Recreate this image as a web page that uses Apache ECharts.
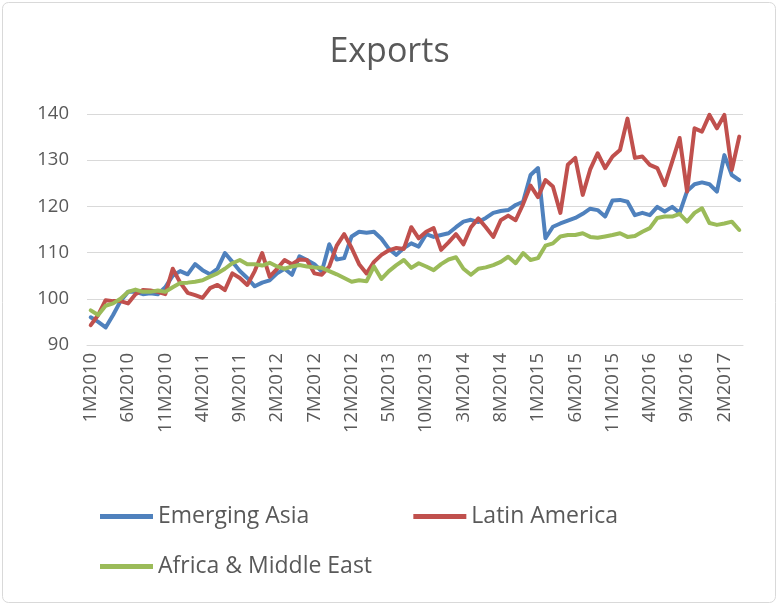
<!DOCTYPE html>
<html>
<head>
<meta charset="utf-8">
<script src="https://cdn.jsdelivr.net/npm/echarts@6/dist/echarts.min.js"></script>
<style>
  html, body { margin: 0; padding: 0; background: #ffffff; }
  #chart { width: 779px; height: 606px; }
</style>
</head>
<body>
<div id="chart"></div>
<script>
// Monthly export indices, January 2010 to April 2017
const months = [
  '1M2010','2M2010','3M2010','4M2010','5M2010','6M2010','7M2010','8M2010','9M2010','10M2010','11M2010','12M2010',
  '1M2011','2M2011','3M2011','4M2011','5M2011','6M2011','7M2011','8M2011','9M2011','10M2011','11M2011','12M2011',
  '1M2012','2M2012','3M2012','4M2012','5M2012','6M2012','7M2012','8M2012','9M2012','10M2012','11M2012','12M2012',
  '1M2013','2M2013','3M2013','4M2013','5M2013','6M2013','7M2013','8M2013','9M2013','10M2013','11M2013','12M2013',
  '1M2014','2M2014','3M2014','4M2014','5M2014','6M2014','7M2014','8M2014','9M2014','10M2014','11M2014','12M2014',
  '1M2015','2M2015','3M2015','4M2015','5M2015','6M2015','7M2015','8M2015','9M2015','10M2015','11M2015','12M2015',
  '1M2016','2M2016','3M2016','4M2016','5M2016','6M2016','7M2016','8M2016','9M2016','10M2016','11M2016','12M2016',
  '1M2017','2M2017','3M2017','4M2017'
];

const emergingAsia = [
  96, 95, 93.8, 96.5, 99.5, 101.5, 101.5, 101, 101.2, 101,
  102.5, 105, 106, 105.3, 107.5, 106.2, 105.3, 106.5, 109.9, 108,
  106, 104.5, 102.7, 103.5, 104, 105.5, 106.5, 105.2, 109.2, 108.4,
  107.5, 105.9, 111.8, 108.5, 108.8, 113.5, 114.5, 114.3, 114.5, 113,
  110.8, 109.5, 111, 112, 111.3, 114, 113.4, 113.8, 114.2, 115.5,
  116.7, 117.1, 116.6, 117.5, 118.6, 119, 119.2, 120.3, 121, 126.8,
  128.3, 113.1, 115.6, 116.3, 116.9, 117.5, 118.4, 119.5, 119.2, 117.8,
  121.3, 121.4, 121, 118.1, 118.6, 118.1, 119.9, 118.9, 119.9, 118.6,
  123.3, 124.8, 125.2, 124.8, 123.2, 131.1, 126.8, 125.7
];

const latinAmerica = [
  94.3, 96.5, 99.7, 99.5, 99.5, 99, 101, 101.9, 101.8, 101.5,
  101, 106.5, 103.5, 101.3, 100.8, 100.2, 102.3, 103, 101.9, 105.5,
  104.5, 103, 106, 109.9, 104.8, 106.5, 108.4, 107.5, 108.5, 108.4,
  105.5, 105.2, 107, 111.5, 114, 111, 107.5, 105.5, 108, 109.5,
  110.5, 111, 110.8, 115.5, 113.1, 114.5, 115.3, 110.6, 112.2, 114,
  111.8, 115.5, 117.4, 115.5, 113.4, 117, 118, 117, 120.5, 124.5,
  122, 125.7, 124.3, 118.6, 129, 130.5, 122.5, 128, 131.5, 128.3,
  130.8, 132.2, 139, 130.5, 130.8, 129, 128.3, 124.6, 129.7, 134.8,
  123.2, 136.9, 136.2, 139.8, 136.9, 139.8, 127.9, 135.1
];

const africaMiddleEast = [
  97.5, 96.5, 98.5, 99, 100, 101.5, 102, 101.5, 101.5, 101.8,
  101.5, 102.5, 103.4, 103.5, 103.7, 104, 104.8, 105.5, 106.5, 107.7,
  108.4, 107.5, 107.5, 107.2, 107.8, 107, 106.5, 107, 107.3, 107,
  106.8, 106.7, 106, 105.3, 104.5, 103.7, 104, 103.8, 107, 104.3,
  106, 107.3, 108.4, 106.7, 107.7, 107, 106.2, 107.5, 108.5, 109,
  106.5, 105.2, 106.5, 106.8, 107.3, 108, 109.1, 107.7, 109.9, 108.4,
  108.8, 111.5, 112, 113.5, 113.8, 113.8, 114.2, 113.4, 113.2, 113.5,
  113.8, 114.2, 113.4, 113.6, 114.5, 115.3, 117.5, 117.8, 117.8, 118.4,
  116.7, 118.6, 119.6, 116.4, 116, 116.3, 116.7, 114.9
];

const seriesNames = ['Emerging Asia', 'Latin America', 'Africa & Middle East'];
const seriesColors = ['#4f81bd', '#c0504d', '#9bbb59'];
const yTicks = { min: 90, max: 140, step: 10 };

const FONT = '"Open Sans", "Noto Sans", sans-serif';
const TEXT = '#595959';
const GRID = '#d9d9d9';

const chart = echarts.init(document.getElementById('chart'), null, { renderer: 'canvas' });

function lineSeries(name, data, color) {
  return {
    name: name,
    type: 'line',
    data: data,
    symbol: 'none',
    smooth: false,
    lineStyle: { color: color, width: 4, join: 'round', cap: 'round' },
    itemStyle: { color: color },
    animation: false
  };
}

const legendCommon = {
  left: 95,
  orient: 'horizontal',
  icon: 'rect',
  itemWidth: 53,
  itemHeight: 5,
  itemGap: 104,
  textStyle: { fontFamily: FONT, fontSize: 23, color: TEXT, padding: [0, 0, 0, 0] }
};

chart.setOption({
  backgroundColor: '#ffffff',
  animation: false,
  title: {
    text: 'Exports',
    left: 'center',
    top: 30,
    textStyle: { fontFamily: FONT, fontSize: 34, fontWeight: 'normal', color: TEXT }
  },
  legend: [
    Object.assign({}, legendCommon, { top: 500, data: [seriesNames[0], seriesNames[1]] }),
    Object.assign({}, legendCommon, { top: 550, data: [seriesNames[2]] })
  ],
  grid: { left: 87, right: 36, top: 114, bottom: 261, containLabel: false },
  xAxis: {
    type: 'category',
    data: months,
    boundaryGap: true,
    axisLine: { show: true, lineStyle: { color: GRID, width: 1 } },
    axisTick: { show: false },
    axisLabel: {
      interval: 4,
      rotate: 90,
      margin: 8,
      fontFamily: FONT,
      fontSize: 18.5,
      color: TEXT
    },
    splitLine: { show: false }
  },
  yAxis: {
    type: 'value',
    min: yTicks.min,
    max: yTicks.max,
    interval: yTicks.step,
    axisLine: { show: false },
    axisTick: { show: false },
    axisLabel: { fontFamily: FONT, fontSize: 18.5, color: TEXT, margin: 18 },
    splitLine: { lineStyle: { color: GRID, width: 1 } }
  },
  graphic: [{
    type: 'rect',
    shape: { x: 2.5, y: 2.5, width: 773, height: 600, r: 6 },
    style: { fill: 'none', stroke: GRID, lineWidth: 1 },
    silent: true
  }],
  series: [
    lineSeries(seriesNames[0], emergingAsia, seriesColors[0]),
    lineSeries(seriesNames[1], latinAmerica, seriesColors[1]),
    lineSeries(seriesNames[2], africaMiddleEast, seriesColors[2])
  ]
});
</script>
</body>
</html>
